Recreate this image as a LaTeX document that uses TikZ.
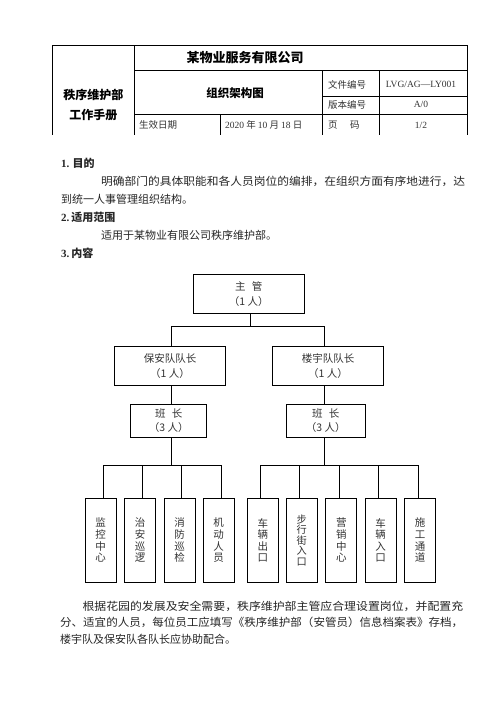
\documentclass[tikz,border=0pt]{standalone}
\usepackage{graphicx}
\usepackage{fontspec}
\setmainfont{Liberation Serif}
\newfontfamily\cjk{Noto Sans CJK SC}
\begin{document}
\begin{tikzpicture}[x=1pt,y=-1pt,
  box/.style={draw, line width=0.9pt, inner sep=0pt, align=center, text=black!80,
    font=\cjk\fontsize{10.5}{15}\selectfont},
  leaf/.style={draw, line width=0.9pt, minimum width=31pt, minimum height=84pt, inner sep=0pt,
    align=center, text=black!80, font=\cjk\fontsize{10.5}{11.6}\selectfont},
  txt/.style={anchor=west, inner sep=0pt, text=black!85, font=\cjk\fontsize{11}{13}\selectfont},
  ttx/.style={inner sep=0pt, text=black!80, font=\cjk\fontsize{9.5}{11}\selectfont},
  tbold/.style={inner sep=0pt, text=black, font=\cjk\bfseries\fontsize{12}{14}\selectfont},
  conn/.style={line width=0.9pt},
  tline/.style={line width=0.7pt}]
\useasboundingbox (0,0) rectangle (496,702);
\fill[white] (0,0) rectangle (496,702);

% ---------- header table ----------
\draw[tline] (52.7,45) -- (467.7,45);
\draw[tline] (52.7,45) -- (52.7,135);
\draw[tline] (467.7,45) -- (467.7,135);
\draw[tline] (134.3,45) -- (134.3,135);
\draw[tline] (134.3,70) -- (467.7,70);
\draw[tline] (322.7,70) -- (322.7,135);
\draw[tline] (379.3,70) -- (379.3,135);
\draw[tline] (322.7,96) -- (467.7,96);
\draw[tline] (134.3,114) -- (467.7,114);
\draw[tline] (220,114) -- (220,135);

\node[tbold, font=\cjk\bfseries\fontsize{13}{15}\selectfont] (title) at (245,58) {某物业服务有限公司};
\node[tbold, font=\cjk\bfseries\fontsize{11.5}{14}\selectfont] (org) at (235,93) {组织架构图};
\node[tbold] (dept1) at (93.3,94.5) {秩序维护部};
\node[tbold] (dept2) at (93.3,115) {工作手册};
\node[ttx, anchor=west] (k1) at (328,84.5) {文件编号};
\node[ttx, anchor=west] (k2) at (328,104.5) {版本编号};
\node[ttx, anchor=west] (k3) at (328,125) {页\hspace{1.3em}码};
\node[ttx, font=\rmfamily\fontsize{9.5}{11}\selectfont] (v1) at (421,84.5) {LVG/AG—LY001};
\node[ttx, font=\rmfamily\fontsize{9.5}{11}\selectfont] (v2) at (421,104.5) {A/0};
\node[ttx, font=\rmfamily\fontsize{9.5}{11}\selectfont] (v3) at (421,125) {1/2};
\node[ttx, anchor=west] (d1) at (139,125) {生效日期};
\node[ttx, anchor=west] (d2) at (225,125) {{\rmfamily 2020} 年 {\rmfamily 10} 月 {\rmfamily 18} 日};

% ---------- text ----------
\node[txt] (h1) at (61,163) {{\rmfamily\bfseries 1.} {\bfseries 目的}};
\node[txt] (p1a) at (101,181) {\resizebox{364pt}{\height}{明确部门的具体职能和各人员岗位的编排，在组织方面有序地进行，达}};
\node[txt] (p1b) at (61,199) {到统一人事管理组织结构。};
\node[txt] (h2) at (61,217) {{\rmfamily\bfseries 2.}\,{\bfseries 适用范围}};
\node[txt] (p2) at (101,235) {适用于某物业有限公司秩序维护部。};
\node[txt] (h3) at (61,253) {{\rmfamily\bfseries 3.}\,{\bfseries 内容}};

% ---------- org chart ----------
\node[box, minimum width=111pt, minimum height=39pt] (boss) at (248.8,293.8) {主\hspace{0.6em}管\\（1 人）};
\node[box, minimum width=111.4pt, minimum height=39.7pt] (bao) at (170,365.8) {保安队队长\\（1 人）};
\node[box, minimum width=111pt, minimum height=39.7pt] (lou) at (328,365.8) {楼宇队队长\\（1 人）};
\node[box, minimum width=76pt, minimum height=33pt, font=\cjk\fontsize{10.5}{14}\selectfont] (ban1) at (168.7,420.8) {班\hspace{0.6em}长\\（3 人）};
\node[box, minimum width=79.7pt, minimum height=33pt, font=\cjk\fontsize{10.5}{14}\selectfont] (ban2) at (325.8,420.8) {班\hspace{0.6em}长\\（3 人）};

\node[leaf] (m1) at (100.7,540.3) {监\\控\\中\\心};
\node[leaf] (m2) at (140.2,540.3) {治\\安\\巡\\逻};
\node[leaf] (m3) at (179.5,540.3) {消\\防\\巡\\检};
\node[leaf] (m4) at (218.7,540.3) {机\\动\\人\\员};
\node[leaf] (m5) at (262.8,540.3) {车\\辆\\出\\口};
\node[leaf, font=\cjk\fontsize{10.2}{10.5}\selectfont] (m6) at (301.7,540.3) {步\\行\\街\\入\\口};
\node[leaf] (m7) at (341.3,540.3) {营\\销\\中\\心};
\node[leaf] (m8) at (380.7,540.3) {车\\辆\\入\\口};
\node[leaf] (m9) at (420,540.3) {施\\工\\通\\道};

\coordinate (j) at (250.7,326.7);
\coordinate (sL) at (171.7,326.7);
\coordinate (sR) at (324,326.7);
\coordinate (bl) at (171.7,465.7);
\coordinate (br) at (324,465.7);

\draw[conn] (boss.south -| j) -- (j);
\draw[conn] (bao.north -| sL) -- (sL) -- (sR) -- (lou.north -| sR);
\draw[conn] (bao.south -| sL) -- (ban1.north -| sL);
\draw[conn] (lou.south -| sR) -- (ban2.north -| sR);
\draw[conn] (ban1.south -| bl) -- (bl);
\draw[conn] (ban2.south -| br) -- (br);

\draw[conn] ([xshift=2.6pt]m1.north) -- ([xshift=2.6pt]m1.north |- bl) -- ([xshift=3pt]m4.north |- bl) -- ([xshift=3pt]m4.north);
\draw[conn] ([xshift=2.1pt]m2.north) -- ([xshift=2.1pt]m2.north |- bl);
\draw[conn] ([xshift=1.5pt]m3.north) -- ([xshift=1.5pt]m3.north |- bl);

\draw[conn] ([xshift=-2.3pt]m5.north) -- ([xshift=-2.3pt]m5.north |- br) -- ([xshift=-1.5pt]m9.north |- br) -- ([xshift=-1.5pt]m9.north);
\draw[conn] ([xshift=-2.4pt]m6.north) -- ([xshift=-2.4pt]m6.north |- br);
\draw[conn] ([xshift=-2pt]m7.north) -- ([xshift=-2pt]m7.north |- br);
\draw[conn] ([xshift=-2.4pt]m8.north) -- ([xshift=-2.4pt]m8.north |- br);

% ---------- closing paragraph ----------
\node[txt] (q1) at (82.3,606) {\resizebox{380.7pt}{\height}{根据花园的发展及安全需要，秩序维护部主管应合理设置岗位，并配置充}};
\node[txt] (q2) at (60,622.7) {\resizebox{403pt}{\height}{分、适宜的人员，每位员工应填写《秩序维护部（安管员）信息档案表》存档，}};
\node[txt] (q3) at (60,639) {楼宇队及保安队各队长应协助配合。};
\end{tikzpicture}
\end{document}
